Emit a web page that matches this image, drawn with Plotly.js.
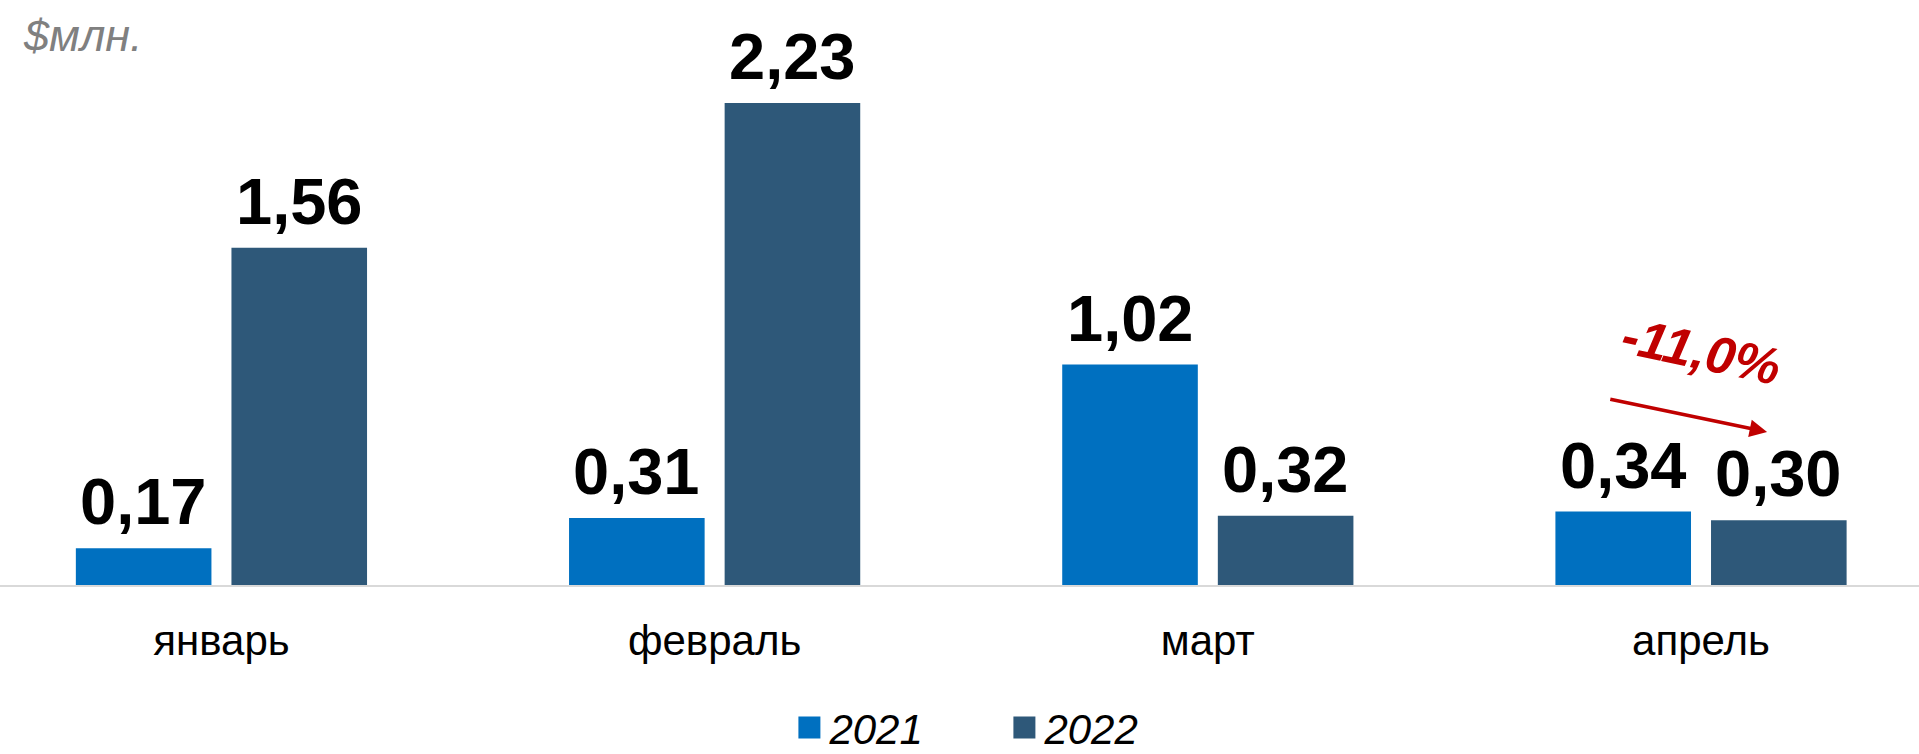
<!DOCTYPE html>
<html>
<head>
<meta charset="utf-8">
<script src="https://cdn.plot.ly/plotly-3.0.1.min.js"></script>
<style>html,body{margin:0;padding:0;background:#fff;}#chart{width:1919px;height:754px;}</style>
</head>
<body>
<div id="chart"></div>
<script>
const months = ['январь', 'февраль', 'март', 'апрель'];
const seriesNames = ['2021', '2022'];
const values2021 = [0.17, 0.31, 1.02, 0.34];
const values2022 = [1.56, 2.23, 0.32, 0.30];
const unitLabel = '$млн.';
const changeLabel = '-11,0%';

const colors = ['#0070C0', '#2E5879'];
const FONT = 'Liberation Sans, Arial, sans-serif';
const BARGAP = 0.369;
const BARGROUPGAP = 0.1286;
const allSeries = [values2021, values2022];

const traces = allSeries.map((vals, i) => ({
  type: 'bar',
  name: seriesNames[i],
  x: months,
  y: vals,
  marker: {color: colors[i]},
  cliponaxis: false,
  hoverinfo: 'none'
}));

// value labels placed above each bar, using the category axis and bar group slot width
const slot = (1 - BARGAP) / allSeries.length;
const valueLabels = [];
allSeries.forEach((vals, i) => {
  vals.forEach((v, j) => {
    valueLabels.push({
      xref: 'x', yref: 'y',
      x: j + (i - (allSeries.length - 1) / 2) * slot,
      y: v,
      xanchor: 'center', yanchor: 'bottom', yshift: 8,
      text: '<b>' + v.toFixed(2).replace('.', ',') + '</b>',
      showarrow: false,
      font: {family: FONT, size: 65, color: '#000000'}
    });
  });
});

const layout = {
  width: 1919,
  height: 754,
  margin: {l: 0, r: 0, t: 0, b: 169, pad: 0, autoexpand: false},
  paper_bgcolor: '#ffffff',
  plot_bgcolor: '#ffffff',
  barmode: 'group',
  bargap: BARGAP,
  bargroupgap: BARGROUPGAP,
  showlegend: true,
  legend: {
    orientation: 'h',
    x: 0.5234, xanchor: 'center',
    yref: 'paper', y: -0.302, yanchor: 'bottom',
    font: {family: FONT, size: 42, style: 'italic', color: '#000000'},
    entrywidth: 170,
    bgcolor: 'rgba(0,0,0,0)'
  },
  xaxis: {
    type: 'category',
    range: [-0.449, 3.442],
    showline: true,
    linecolor: '#D9D9D9',
    linewidth: 2,
    showgrid: false,
    zeroline: false,
    ticks: '',
    tickfont: {family: FONT, size: 42, color: '#000000'},
    ticklabelstandoff: 18,
    fixedrange: true
  },
  yaxis: {
    range: [0, 2.707],
    visible: false,
    showgrid: false,
    zeroline: false,
    fixedrange: true
  },
  annotations: valueLabels.concat([
    {
      xref: 'paper', yref: 'paper', x: 0, y: 1, xanchor: 'left', yanchor: 'top',
      xshift: 21, yshift: -8,
      text: unitLabel, showarrow: false,
      font: {family: FONT, size: 45, color: '#808080', style: 'italic'}
    },
    {
      xref: 'x', yref: 'y', x: 'апрель', y: 1.085,
      text: '<b><i>' + changeLabel + '</i></b>', showarrow: false, textangle: 12,
      font: {family: FONT, size: 52, color: '#C00000'}
    },
    {
      xref: 'x', yref: 'y', axref: 'x', ayref: 'y',
      x: 3.134, y: 0.708, ax: 2.813, ay: 0.861,
      text: '', showarrow: true, arrowhead: 2, arrowsize: 1, arrowwidth: 3.5, arrowcolor: '#C00000',
      standoff: 0, startstandoff: 0
    }
  ])
};

Plotly.newPlot('chart', traces, layout, {displayModeBar: false, staticPlot: true}).then(() => {
  document.querySelectorAll('.legendpoints path').forEach(p => p.setAttribute('d', 'M11,11H-11V-11H11Z'));
});
</script>
</body>
</html>
